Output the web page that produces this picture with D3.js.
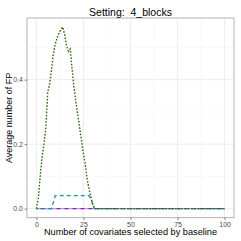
<!DOCTYPE html>
<html><head><meta charset="utf-8">
<script src="https://cdn.jsdelivr.net/npm/d3@7"></script>
<style>body{margin:0;background:#fff}svg{display:block}text{white-space:pre}</style>
</head><body>
<script>
const xs = [0,1,2,3,4,5,6,7,8,9,10,11,12,13,14,15,16,17,18,19,20,21,22,23,24,25,26,27,28,29,30,31,40,50,60,70,80,90,100];
const greenVals = [0,0.03,0.10,0.16,0.20,0.25,0.36,0.385,0.43,0.48,0.51,0.53,0.545,0.555,0.563,0.54,0.505,0.488,0.495,0.43,0.375,0.33,0.29,0.25,0.21,0.17,0.135,0.09,0.06,0.035,0.012,0,0,0,0,0,0,0,0];
const tealVals  = [0,0,0,0,0,0,0,0,0,0.02,0.04,0.04,0.04,0.04,0.04,0.04,0.04,0.04,0.04,0.04,0.04,0.04,0.04,0.04,0.04,0.04,0.04,0.04,0.04,0.03,0.012,0,0,0,0,0,0,0,0];
const purpleVals = xs.map(()=>0);
const violetVals = xs.map(()=>0);
const xTicks = [0,25,50,75,100];
const yTicks = [0,0.2,0.4];
const title = "Setting:  4_blocks";
const xTitle = "Number of covariates selected by baseline";
const yTitle = "Average number of FP";

const W=241,H=241;
const panel={l:27,r:234,t:18,b:217.7};
const svg=d3.select("body").append("svg").attr("width",W).attr("height",H);
const x=d3.scaleLinear().domain([-5,105]).range([panel.l,panel.r]);
const ymax=0.563, pad=ymax*0.05;
const y=d3.scaleLinear().domain([-pad,ymax+pad]).range([panel.b,panel.t]);

const g=svg.append("g");
const xMinor=[12.5,37.5,62.5,87.5], yMinor=[0.1,0.3,0.5];
g.selectAll(".xm").data(xMinor).enter().append("line").attr("x1",d=>x(d)).attr("x2",d=>x(d)).attr("y1",panel.t).attr("y2",panel.b).attr("stroke","#f4f4f4").attr("stroke-width",0.6);
g.selectAll(".ym").data(yMinor).enter().append("line").attr("y1",d=>y(d)).attr("y2",d=>y(d)).attr("x1",panel.l).attr("x2",panel.r).attr("stroke","#f4f4f4").attr("stroke-width",0.6);
g.selectAll(".xM").data(xTicks).enter().append("line").attr("x1",d=>x(d)).attr("x2",d=>x(d)).attr("y1",panel.t).attr("y2",panel.b).attr("stroke","#ebebeb").attr("stroke-width",0.9);
g.selectAll(".yM").data(yTicks).enter().append("line").attr("y1",d=>y(d)).attr("y2",d=>y(d)).attr("x1",panel.l).attr("x2",panel.r).attr("stroke","#ebebeb").attr("stroke-width",0.9);

function series(vals,color,dash,w,off){
  const line=d3.line().x((d,i)=>x(xs[i])).y(d=>y(d));
  svg.append("path").datum(vals).attr("d",line).attr("fill","none").attr("stroke",color)
    .attr("stroke-width",w).attr("stroke-dasharray",dash).attr("stroke-dashoffset",off||0);
}
series(violetVals,"#c98de8","4,4",1.3,0);
series(purpleVals,"#7a1fb8","4,4",1.3,4);
series(tealVals,"#17959a","4,3",1.3,2);
series(greenVals,"#2f6a10","1.6,1.6",1.4,0);

svg.append("rect").attr("x",panel.l).attr("y",panel.t).attr("width",panel.r-panel.l).attr("height",panel.b-panel.t).attr("fill","none").attr("stroke","#a0a0a0").attr("stroke-width",0.8);

const xa=svg.append("g").attr("transform",`translate(0,${panel.b})`).call(d3.axisBottom(x).tickValues(xTicks).tickSize(2.5).tickPadding(1.5).tickFormat(d3.format("d")));
const ya=svg.append("g").attr("transform",`translate(${panel.l},0)`).call(d3.axisLeft(y).tickValues(yTicks).tickSize(2.5).tickPadding(1.5).tickFormat(d3.format(".1f")));
[xa,ya].forEach(a=>{a.select(".domain").remove();a.selectAll("line").attr("stroke","#333").attr("stroke-width",0.6);
 a.selectAll("text").attr("font-family","Liberation Sans, Arial, sans-serif").attr("font-size",7).attr("fill","#4d4d4d");});

const font="Liberation Sans, Arial, sans-serif";
svg.append("text").attr("x",(panel.l+panel.r)/2).attr("y",16).attr("text-anchor","middle").attr("font-family",font).attr("font-size",10.5).attr("fill","#000").attr("xml:space","preserve").text(title);
svg.append("text").attr("x",(panel.l+panel.r)/2).attr("y",235).attr("text-anchor","middle").attr("font-family",font).attr("font-size",9.2).attr("fill","#000").text(xTitle);
svg.append("text").attr("transform",`translate(11.5,${(panel.t+panel.b)/2}) rotate(-90)`).attr("text-anchor","middle").attr("font-family",font).attr("font-size",9).attr("fill","#000").text(yTitle);
</script>
</body></html>
